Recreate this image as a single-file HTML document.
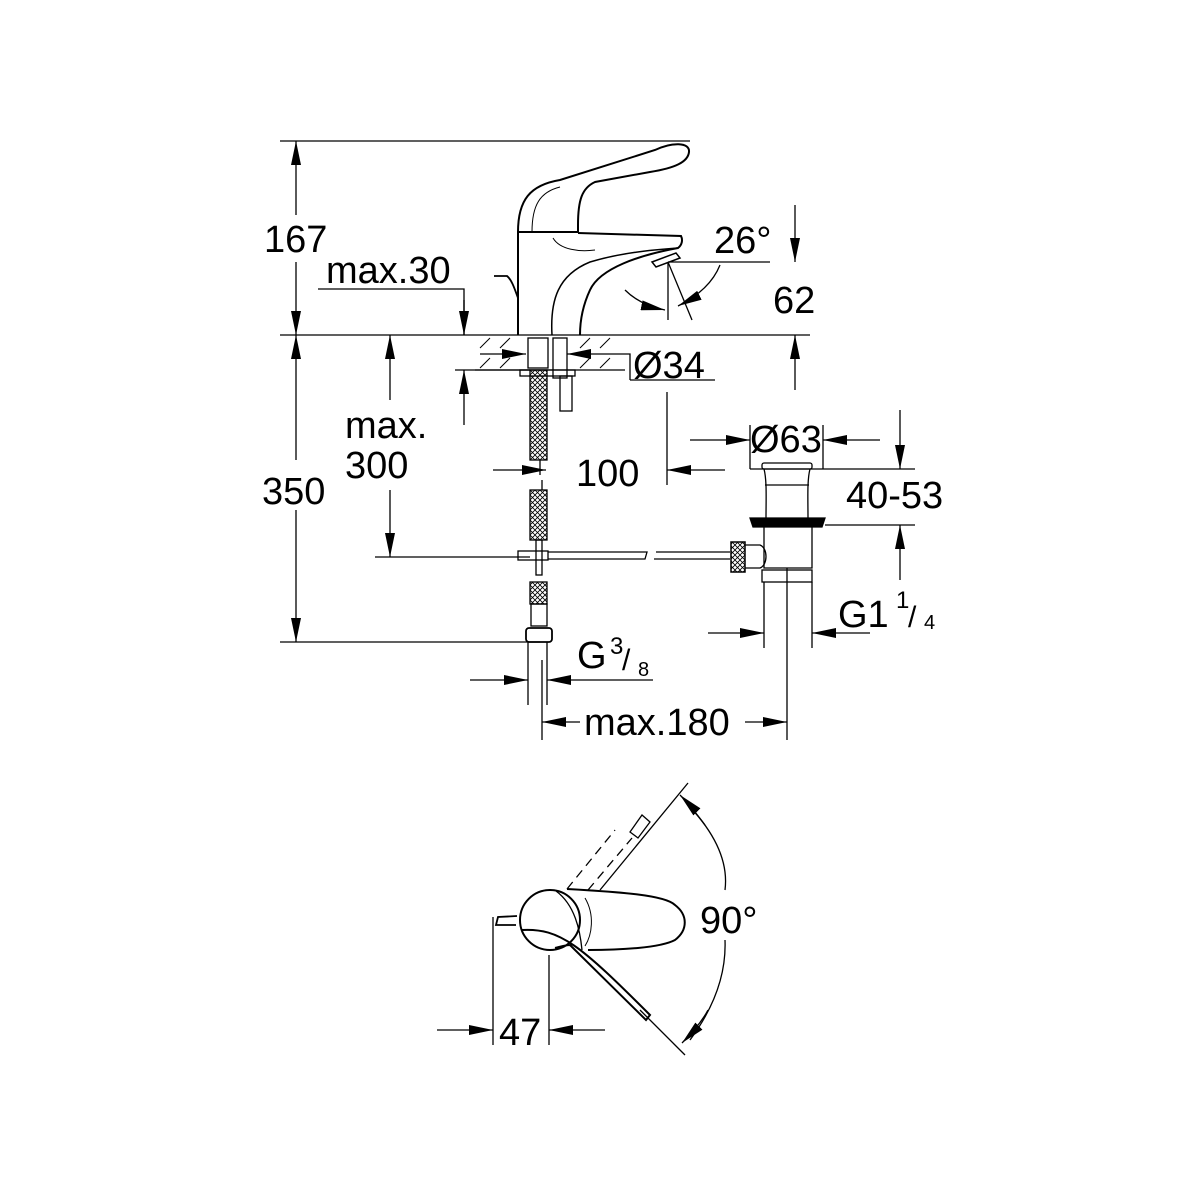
<!DOCTYPE html>
<html><head><style>html,body{margin:0;padding:0;background:#fff}svg{display:block}</style></head>
<body>
<svg width="1200" height="1200" viewBox="0 0 1200 1200" xmlns="http://www.w3.org/2000/svg" font-family="Liberation Sans, sans-serif" fill="none" stroke="#000" stroke-width="1.3">
<defs>
<marker id="a" viewBox="0 0 24 10" refX="24" refY="5" markerWidth="24" markerHeight="10" markerUnits="userSpaceOnUse" orient="auto"><path d="M0,0 L24,5 L0,10 Z" fill="#000" stroke="none"/></marker>
<pattern id="h" width="5" height="5" patternUnits="userSpaceOnUse"><path d="M0,0L5,5M5,0L0,5" stroke="#000" stroke-width="0.8"/></pattern>
</defs>
<line x1="280" y1="141" x2="690" y2="141"/>
<line x1="280" y1="335" x2="810" y2="335"/>
<line x1="280" y1="642" x2="540" y2="642"/>
<line x1="296" y1="215" x2="296" y2="141" marker-end="url(#a)"/>
<line x1="296" y1="262" x2="296" y2="335" marker-end="url(#a)"/>
<line x1="296" y1="460" x2="296" y2="335" marker-end="url(#a)"/>
<line x1="296" y1="510" x2="296" y2="642" marker-end="url(#a)"/>
<polyline points="318,289 464,289 464,335"/>
<line x1="464" y1="300" x2="464" y2="335" marker-end="url(#a)"/>
<line x1="464" y1="425" x2="464" y2="370" marker-end="url(#a)"/>
<line x1="455" y1="370" x2="530" y2="370"/>
<line x1="390" y1="400" x2="390" y2="335" marker-end="url(#a)"/>
<line x1="390" y1="490" x2="390" y2="557" marker-end="url(#a)"/>
<line x1="375" y1="557" x2="530" y2="557"/>
<line x1="475" y1="370" x2="625" y2="370"/>
<path d="M480,348l10,-10M500,348l10,-10M580,348l10,-10M600,348l10,-10M480,368l10,-10M500,368l10,-10M580,368l10,-10M600,368l10,-10" stroke-width="1"/>
<line x1="480" y1="354" x2="526" y2="354" marker-end="url(#a)"/>
<polyline points="630,380 630,354 567,354" marker-end="url(#a)"/>
<line x1="630" y1="380" x2="715" y2="380"/>
<path d="M518,335 L518,232 C518,200 530,185 560,180 L655,150 C672,142 690,142 689,152 C688,162 675,168 650,172 L595,182 C582,188 578,200 578,225 L578,232 L518,232" stroke-width="2"/>
<path d="M532,232 C532,205 540,192 560,187" stroke-width="1"/>
<path d="M578,233 L681,236 C683,240 682,245 678,248 C640,255 600,268 590,290 C583,305 580,320 580,335" stroke-width="2"/>
<path d="M552,335 C550,300 558,275 590,262 C620,253 650,250 678,248" stroke-width="1.5"/>
<path d="M553,238 C560,250 580,252 595,250" stroke-width="1"/>
<path d="M652,262 L676,253 L680,258 L656,267 Z" stroke-width="1.5"/>
<path d="M494,276 L507,276 C512,280 515,290 518,298" stroke-width="1.8"/>
<rect x="528" y="338" width="20" height="30"/>
<rect x="553" y="338" width="14" height="40"/>
<rect x="520" y="370" width="55" height="6"/>
<rect x="560" y="376" width="12" height="35"/>
<rect x="530" y="370" width="17" height="90" fill="url(#h)"/>
<line x1="540" y1="460" x2="540" y2="475"/>
<line x1="668" y1="262" x2="770" y2="262"/>
<line x1="668" y1="262" x2="668" y2="320"/>
<line x1="668" y1="262" x2="692" y2="320"/>
<path d="M625,290 Q640,305 665,310" marker-end="url(#a)"/>
<path d="M720,265 Q710,290 678,306" marker-end="url(#a)"/>
<line x1="795" y1="205" x2="795" y2="262" marker-end="url(#a)"/>
<line x1="795" y1="390" x2="795" y2="335" marker-end="url(#a)"/>
<line x1="667" y1="392" x2="667" y2="485"/>
<line x1="725" y1="470" x2="667" y2="470" marker-end="url(#a)"/>
<line x1="493" y1="470" x2="546" y2="470" marker-end="url(#a)"/>
<rect x="530" y="490" width="17" height="50" fill="url(#h)"/>
<line x1="542" y1="480" x2="542" y2="490"/>
<rect x="536" y="540" width="6" height="35"/>
<rect x="518" y="551" width="30" height="9"/>
<rect x="530" y="582" width="17" height="22" fill="url(#h)"/>
<rect x="531" y="604" width="16" height="22"/>
<rect x="526" y="628" width="26" height="14" rx="3" stroke-width="1.8"/>
<path d="M548,552 L647,552 L645,559 L548,559" stroke-width="1.3"/>
<path d="M656,552 L730,552 M654,559 L730,559" stroke-width="1.3"/>
<rect x="762" y="463" width="50" height="6" rx="2"/>
<line x1="750" y1="469" x2="823" y2="469"/>
<path d="M764,469 C767,480 766,500 766,518 M810,469 C807,480 808,500 808,518"/>
<line x1="765" y1="485" x2="809" y2="485"/>
<path d="M750,518 L825,518 L822,527 L753,527 Z" fill="#000"/>
<path d="M764,527 L764,568 L812,568 L812,527"/>
<path d="M745,545 L760,545 C768,548 768,565 760,568 L745,568"/>
<rect x="731" y="542" width="14" height="30" fill="url(#h)" stroke-width="1.5"/>
<rect x="762" y="570" width="50" height="12"/>
<line x1="787" y1="568" x2="787" y2="740"/>
<line x1="764" y1="582" x2="764" y2="648"/>
<line x1="812" y1="582" x2="812" y2="648"/>
<line x1="750" y1="425" x2="750" y2="469"/>
<line x1="823" y1="425" x2="823" y2="469"/>
<line x1="690" y1="440" x2="750" y2="440" marker-end="url(#a)"/>
<line x1="880" y1="440" x2="823" y2="440" marker-end="url(#a)"/>
<line x1="823" y1="469" x2="915" y2="469"/>
<line x1="825" y1="525" x2="915" y2="525"/>
<line x1="900" y1="410" x2="900" y2="469" marker-end="url(#a)"/>
<line x1="900" y1="580" x2="900" y2="525" marker-end="url(#a)"/>
<line x1="708" y1="633" x2="764" y2="633" marker-end="url(#a)"/>
<line x1="870" y1="633" x2="812" y2="633" marker-end="url(#a)"/>
<line x1="528" y1="642" x2="528" y2="705"/>
<line x1="547" y1="642" x2="547" y2="705"/>
<line x1="470" y1="680" x2="528" y2="680" marker-end="url(#a)"/>
<line x1="653" y1="680" x2="547" y2="680" marker-end="url(#a)"/>
<line x1="542" y1="660" x2="542" y2="740"/>
<line x1="580" y1="722" x2="542" y2="722" marker-end="url(#a)"/>
<line x1="745" y1="722" x2="787" y2="722" marker-end="url(#a)"/>
<circle cx="550" cy="920" r="30" stroke-width="2"/>
<path d="M567,889 C620,892 665,895 675,905 C688,915 688,930 675,940 C660,948 620,950 588,950" stroke-width="2"/>
<path d="M556,891 C575,905 580,930 582,950" stroke-width="1.3"/>
<path d="M585,898 C595,915 592,935 585,946" stroke-width="1"/>
<path d="M522,930 C560,928 580,945 650,1015 L646,1020 L570,945 C565,945 560,947 555,948" stroke-width="2"/>
<path d="M517,916 L498,917 L496,925 L516,925" stroke-width="1.8"/>
<path d="M567,889 L615,830 M588,890 L632,838" stroke-dasharray="9,6" stroke-width="1.3"/>
<path d="M630,832 L642,815 L650,822 L638,838 Z" stroke-width="1.3"/>
<line x1="600" y1="890" x2="688" y2="783"/>
<line x1="640" y1="1010" x2="685" y2="1055"/>
<path d="M690,807 Q730,850 725,890" />
<path d="M725,940 Q727,990 690,1040"/>
<path d="M705,825 Q690,805 680,795" marker-end="url(#a)"/>
<path d="M708,1010 Q700,1025 682,1043" marker-end="url(#a)"/>
<line x1="493" y1="917" x2="493" y2="1045"/>
<line x1="549" y1="955" x2="549" y2="1045"/>
<line x1="437" y1="1030" x2="493" y2="1030" marker-end="url(#a)"/>
<line x1="605" y1="1030" x2="549" y2="1030" marker-end="url(#a)"/>
<g fill="#000" stroke="none" font-size="38">
<text x="264" y="252">167</text>
<text x="326" y="283">max.30</text>
<text x="714" y="253">26°</text>
<text x="773" y="313">62</text>
<text x="633" y="378">Ø34</text>
<text x="345" y="438">max.</text>
<text x="345" y="478">300</text>
<text x="262" y="504">350</text>
<text x="576" y="486">100</text>
<text x="750" y="452">Ø63</text>
<text x="846" y="508">40-53</text>
<text x="838" y="627">G1</text>
<text x="896" y="608" font-size="24">1</text>
<text x="908" y="627" font-size="30">/</text>
<text x="924" y="629" font-size="20">4</text>
<text x="577" y="668">G</text>
<text x="610" y="654" font-size="24">3</text>
<text x="622" y="670" font-size="30">/</text>
<text x="638" y="676" font-size="20">8</text>
<text x="584" y="735">max.180</text>
<text x="700" y="933">90°</text>
<text x="499" y="1045">47</text>
</g>
</svg>
</body></html>
